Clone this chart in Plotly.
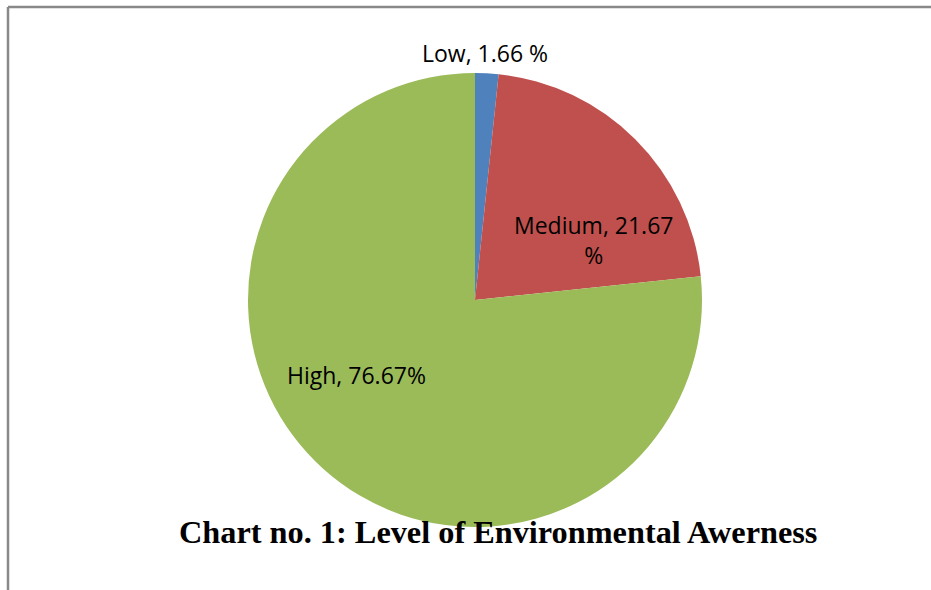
import plotly.graph_objects as go

categories = ["Low", "Medium", "High"]
values = [1.66, 21.67, 76.67]
label_texts = ["Low, 1.66 %", "Medium, 21.67<br>%", "High, 76.67%"]
colors = ["#4F81BD", "#C0504D", "#9BBB59"]
title_text = "Chart no. 1: Level of Environmental Awerness"

W, H = 931, 590
cx, cy, r = 475, 300, 227

fig = go.Figure(go.Pie(
    labels=categories, values=values, sort=False, direction="clockwise",
    rotation=0, marker=dict(colors=colors, line=dict(width=0)),
    textinfo="none", hoverinfo="label+value", showlegend=False,
    domain=dict(x=[(cx - r) / W, (cx + r) / W], y=[1 - (cy + r) / H, 1 - (cy - r) / H]),
))

label_pos = [(485, 53), (593, 240), (356, 375)]
annotations = []
for t, (px, py) in zip(label_texts, label_pos):
    annotations.append(dict(x=px / W, y=1 - py / H, xref="paper", yref="paper",
                            text=t, showarrow=False, xanchor="center", yanchor="middle",
                            font=dict(family="Open Sans, sans-serif", size=23, color="#000000")))
annotations.append(dict(x=498 / W, y=1 - 532 / H, xref="paper", yref="paper",
                        text="<b>" + title_text + "</b>", showarrow=False,
                        xanchor="center", yanchor="middle",
                        font=dict(family="Liberation Serif, Times New Roman, serif", size=32.3, color="#000000")))

shapes = [
    dict(type="line", xref="paper", yref="paper", x0=8 / W, x1=1, y0=1 - 7 / H, y1=1 - 7 / H,
         line=dict(color="#898989", width=2.5)),
    dict(type="line", xref="paper", yref="paper", x0=8 / W, x1=8 / W, y0=1 - 7 / H, y1=0,
         line=dict(color="#898989", width=2.5)),
]

fig.update_layout(width=W, height=H, margin=dict(l=0, r=0, t=0, b=0),
                  paper_bgcolor="white", plot_bgcolor="white",
                  annotations=annotations, shapes=shapes)
fig.write_html("out.html")
